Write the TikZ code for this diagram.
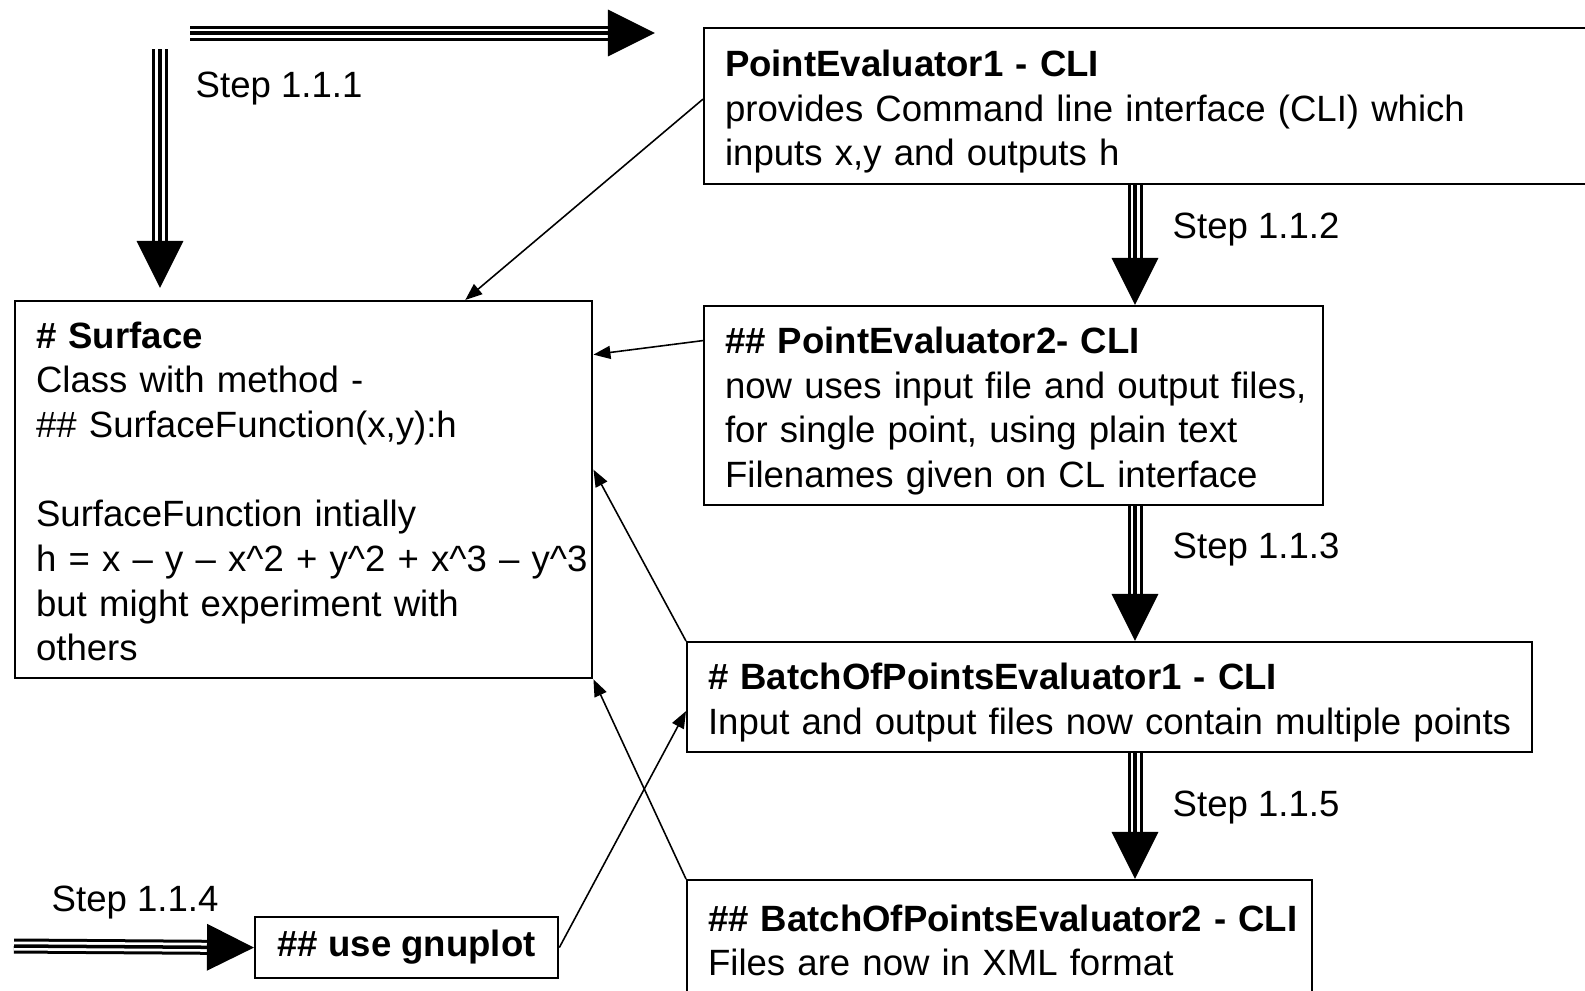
\documentclass[tikz,border=0pt]{standalone}
\usepackage{fontspec}
\setmainfont{Liberation Sans}
\usetikzlibrary{arrows.meta,positioning}

\newcommand{\boxlines}[1]{\raisebox{-0.06cm}[\height][\depth]{\begin{tabular}{@{}l@{}}#1\end{tabular}}}

\tikzset{
  box/.style={draw, line width=0.6pt, anchor=north west, align=left, inner xsep=0.21cm, inner ysep=0pt},
  stepline/.style={-{Triangle[length=0.47cm,width=0.46cm]}, line width=0.035cm,
    preaction={draw,-,line width=0.15cm,shorten >=0.45cm},
    preaction={draw,-,white,line width=0.09cm,shorten >=0.45cm}},
  link/.style={-{Triangle[length=0.17cm,width=0.13cm]}, line width=0.45pt},
  steplabel/.style={anchor=base west, inner sep=0pt}
}

\begin{document}
\begin{tikzpicture}[x=0.01cm, y=-0.01cm, font=\fontsize{10.4}{12.7}\selectfont]
\clip (0,0) rectangle (1585,990);

\node[box, text width=8.55cm, minimum height=1.56cm] (pe1) at (703,27) {\boxlines{\textbf{PointEvaluator1 - CLI}\\ provides Command line interface (CLI) which\\ inputs x,y and outputs h}};
\node[box, text width=5.35cm, minimum height=3.77cm] (surface) at (14,300) {\boxlines{\textbf{\# Surface}\\ Class with method -\\ \#\# SurfaceFunction(x,y):h\\ \\ SurfaceFunction intially\\ h = x -- y -- x\textasciicircum 2 + y\textasciicircum 2 + x\textasciicircum 3 -- y\textasciicircum 3\\ but might experiment with\\ others}};
\node[box, text width=5.77cm, minimum height=1.99cm] (pe2) at (703,305) {\boxlines{\textbf{\#\# PointEvaluator2- CLI}\\ now uses input file and output files,\\ for single point, using plain text\\ Filenames given on CL interface}};
\node[box, text width=8.02cm, minimum height=1.10cm] (bpe1) at (686,641) {\boxlines{\textbf{\# BatchOfPointsEvaluator1 - CLI}\\ Input and output files now contain multiple points}};
\node[box, text width=5.83cm, minimum height=1.17cm] (bpe2) at (686,879) {\boxlines{\textbf{\#\# BatchOfPointsEvaluator2 - CLI}\\ Files are now in XML format}};
\node[draw, line width=0.6pt, anchor=north west, inner sep=0pt, minimum width=3.03cm, minimum height=0.61cm] (gnuplot) at (254,916) {\textbf{\#\# use gnuplot}};

\node[steplabel] (s1) at (195,97) {Step 1.1.1};
\node[steplabel] (s2) at (1172,238) {Step 1.1.2};
\node[steplabel] (s3) at (1172,558) {Step 1.1.3};
\node[steplabel] (s4) at (51,911) {Step 1.1.4};
\node[steplabel] (s5) at (1172,816) {Step 1.1.5};

\coordinate (c0) at (190,33);
\coordinate (c1) at (655,33);
\coordinate (c2) at (160,49);
\coordinate (c3) at (160,288);
\coordinate (c4) at (14,946);
\coordinate (cx) at (1135,0);

\draw[stepline] (c0) -- (c1);
\draw[stepline] (c2) -- (c3);
\draw[stepline] (cx |- pe1.south) -- (cx |- pe2.north);
\draw[stepline] (cx |- pe2.south) -- (cx |- bpe1.north);
\draw[stepline] (cx |- bpe1.south) -- (cx |- bpe2.north);
\draw[stepline] (c4) -- (gnuplot.west);

\draw[link] ([yshift=0.07cm]pe1.west) -- ([xshift=4.51cm]surface.north west);
\draw[link] ([yshift=0.65cm]pe2.west) -- ([yshift=1.35cm]surface.east);
\draw[link] (bpe1.north west) -- ([yshift=0.2cm]surface.east);
\draw[link] (bpe2.north west) -- (surface.south east);
\draw[link] (gnuplot.east) -- ([yshift=-0.14cm]bpe1.west);
\end{tikzpicture}
\end{document}
